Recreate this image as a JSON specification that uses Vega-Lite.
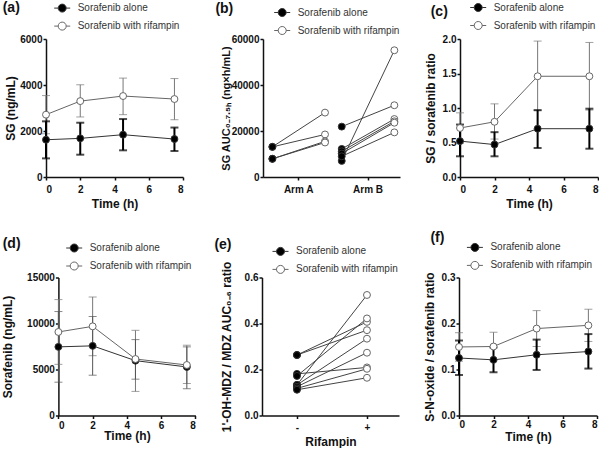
{
  "$schema": "https://vega.github.io/schema/vega-lite/v6.json",
  "background": "white",
  "padding": {"left": 1, "top": 0, "right": 0, "bottom": 0},
  "config": {
    "font": "Liberation Sans",
    "view": {"stroke": null},
    "axis": {"labelFont": "Liberation Sans", "titleFont": "Liberation Sans", "labelFontWeight": "bold", "titleFontWeight": "bold", "labelFontSize": 10, "titleFontSize": 12, "labelColor": "#111", "titleColor": "#111", "domainColor": "#111", "tickColor": "#111", "domainWidth": 1.5, "tickWidth": 1.5, "tickSize": 3, "grid": false},
    "axisY": {"labelPadding": 1, "titlePadding": 0},
    "axisX": {"labelPadding": 4.5, "titlePadding": 3.5},
    "legend": {"orient": "none", "title": null, "labelFont": "Liberation Sans", "labelFontSize": 10, "labelColor": "#333", "symbolType": "M-1.6,0H-0.8M0.8,0H1.6M-0.8,0A0.8,0.8,0,1,0,0.8,0A0.8,0.8,0,1,0,-0.8,0Z", "symbolSize": 100, "symbolStrokeWidth": 1, "rowPadding": 5, "labelOffset": 10, "padding": 0},
    "title": {"anchor": "start", "frame": "group", "fontSize": 14, "fontWeight": "bold", "color": "#111", "font": "Liberation Sans"}
  },
  "resolve": {"scale": {"fill": "independent", "stroke": "independent"}, "legend": {"fill": "independent", "stroke": "independent"}},
  "spacing": 21.5,
  "vconcat": [
    {
      "spacing": 31,
      "resolve": {"scale": {"fill": "independent", "stroke": "independent"}, "legend": {"fill": "independent", "stroke": "independent"}},
      "hconcat": [
        {
          "width": 137, "height": 138,
          "title": {"text": "(a)", "dx": -43.3, "offset": -12.2},
          "data": {"values": [
            {"time": 0, "group": "Sorafenib alone", "mean": 1620, "lo": 810, "hi": 2420},
            {"time": 2, "group": "Sorafenib alone", "mean": 1680, "lo": 970, "hi": 2360},
            {"time": 4.5, "group": "Sorafenib alone", "mean": 1840, "lo": 1160, "hi": 2520},
            {"time": 7.5, "group": "Sorafenib alone", "mean": 1650, "lo": 1130, "hi": 2150},
            {"time": 0, "group": "Sorafenib with rifampin", "mean": 2710, "lo": 1880, "hi": 3540},
            {"time": 2, "group": "Sorafenib with rifampin", "mean": 3300, "lo": 2610, "hi": 4010},
            {"time": 4.5, "group": "Sorafenib with rifampin", "mean": 3520, "lo": 2710, "hi": 4300},
            {"time": 7.5, "group": "Sorafenib with rifampin", "mean": 3390, "lo": 2490, "hi": 4280}
          ]},
          "encoding": {"x": {"field": "time", "type": "quantitative", "scale": {"domain": [0, 8], "nice": false}, "axis": {"values": [0, 2, 4, 6, 8], "title": "Time (h)"}}},
          "layer": [
            {"transform": [{"filter": "datum.group == 'Sorafenib with rifampin'"}], "mark": {"type": "errorbar", "ticks": true, "size": 8, "thickness": 1, "color": "#777"}, "encoding": {"y": {"field": "lo", "type": "quantitative", "scale": {"domain": [0, 6000], "nice": false}, "axis": {"values": [0, 2000, 4000, 6000], "format": "d", "title": "SG (ng/mL)", "minExtent": 28.1, "maxExtent": 28.1}}, "y2": {"field": "hi"}}},
            {"transform": [{"filter": "datum.group == 'Sorafenib alone'"}], "mark": {"type": "errorbar", "ticks": true, "size": 8, "thickness": 2, "color": "#000"}, "encoding": {"y": {"field": "lo", "type": "quantitative", "scale": {"domain": [0, 6000], "nice": false}, "axis": {"values": [0, 2000, 4000, 6000], "format": "d", "title": "SG (ng/mL)", "minExtent": 28.1, "maxExtent": 28.1}}, "y2": {"field": "hi"}}},
            {"mark": {"type": "line", "strokeWidth": 1}, "encoding": {"y": {"field": "mean", "type": "quantitative", "scale": {"domain": [0, 6000], "nice": false}, "axis": {"values": [0, 2000, 4000, 6000], "format": "d", "title": "SG (ng/mL)", "minExtent": 28.1, "maxExtent": 28.1}}, "detail": {"field": "group"}, "stroke": {"field": "group", "type": "nominal", "scale": {"domain": ["Sorafenib alone", "Sorafenib with rifampin"], "range": ["#333", "#666"]}, "legend": {"legendX": 10.7, "legendY": -36.4}}}},
            {"mark": {"type": "circle", "size": 48, "opacity": 1, "strokeWidth": 1}, "encoding": {"y": {"field": "mean", "type": "quantitative", "axis": {"values": [0, 2000, 4000, 6000], "format": "d", "title": "SG (ng/mL)", "minExtent": 28.1, "maxExtent": 28.1}}, "fill": {"field": "group", "type": "nominal", "scale": {"domain": ["Sorafenib alone", "Sorafenib with rifampin"], "range": ["#000", "#fff"]}, "legend": {"legendX": 10.7, "legendY": -36.4}}, "stroke": {"field": "group", "type": "nominal", "legend": {"legendX": 10.7, "legendY": -36.4}}}}
          ]
        },
        {
          "spacing": 24,
          "resolve": {"scale": {"fill": "independent", "stroke": "independent"}, "legend": {"fill": "independent", "stroke": "independent"}},
          "hconcat": [
            {
              "width": 137, "height": 138,
              "title": {"text": "(b)", "dx": -47.6, "offset": -9.1},
              "data": {"values": [
                {"arm": "Arm A", "pair": "A1", "group": "Sorafenib alone", "auc": 13100},
                {"arm": "Arm A", "pair": "A1", "group": "Sorafenib with rifampin", "auc": 28000},
                {"arm": "Arm A", "pair": "A2", "group": "Sorafenib alone", "auc": 13100},
                {"arm": "Arm A", "pair": "A2", "group": "Sorafenib with rifampin", "auc": 18500},
                {"arm": "Arm A", "pair": "A3", "group": "Sorafenib alone", "auc": 7900},
                {"arm": "Arm A", "pair": "A3", "group": "Sorafenib with rifampin", "auc": 15500},
                {"arm": "Arm A", "pair": "A4", "group": "Sorafenib alone", "auc": 7900},
                {"arm": "Arm A", "pair": "A4", "group": "Sorafenib with rifampin", "auc": 15000},
                {"arm": "Arm B", "pair": "B1", "group": "Sorafenib alone", "auc": 21900},
                {"arm": "Arm B", "pair": "B1", "group": "Sorafenib with rifampin", "auc": 31200},
                {"arm": "Arm B", "pair": "B2", "group": "Sorafenib alone", "auc": 7000},
                {"arm": "Arm B", "pair": "B2", "group": "Sorafenib with rifampin", "auc": 55100},
                {"arm": "Arm B", "pair": "B3", "group": "Sorafenib alone", "auc": 12200},
                {"arm": "Arm B", "pair": "B3", "group": "Sorafenib with rifampin", "auc": 25200},
                {"arm": "Arm B", "pair": "B4", "group": "Sorafenib alone", "auc": 11200},
                {"arm": "Arm B", "pair": "B4", "group": "Sorafenib with rifampin", "auc": 24200},
                {"arm": "Arm B", "pair": "B5", "group": "Sorafenib alone", "auc": 10200},
                {"arm": "Arm B", "pair": "B5", "group": "Sorafenib with rifampin", "auc": 23600},
                {"arm": "Arm B", "pair": "B6", "group": "Sorafenib alone", "auc": 9000},
                {"arm": "Arm B", "pair": "B6", "group": "Sorafenib with rifampin", "auc": 19400}
              ]},
              "encoding": {
                "x": {"field": "arm", "type": "nominal", "scale": {"type": "band", "paddingInner": 0.2245, "paddingOuter": 0.1, "align": 0.635}, "axis": {"title": null, "labelAngle": 0}},
                "xOffset": {"field": "group", "type": "nominal", "scale": {"paddingInner": 0, "paddingOuter": 0.011}},
                "y": {"field": "auc", "type": "quantitative", "scale": {"domain": [0, 60000], "nice": false}, "axis": {"values": [0, 20000, 40000, 60000], "format": "d", "title": "SG AUC₀₋₇.₅ₕ (ng×h/mL)", "titleFontSize": 11, "minExtent": 31.5, "maxExtent": 31.5}}
              },
              "layer": [
                {"mark": {"type": "line", "color": "#444", "strokeWidth": 1}, "encoding": {"detail": {"field": "pair"}}},
                {"mark": {"type": "circle", "size": 48, "opacity": 1, "strokeWidth": 1}, "encoding": {"fill": {"field": "group", "type": "nominal", "scale": {"domain": ["Sorafenib alone", "Sorafenib with rifampin"], "range": ["#000", "#fff"]}, "legend": {"legendX": 13.7, "legendY": -32}}, "stroke": {"field": "group", "type": "nominal", "scale": {"domain": ["Sorafenib alone", "Sorafenib with rifampin"], "range": ["#333", "#666"]}, "legend": {"legendX": 13.7, "legendY": -32}}}}
              ]
            },
            {
              "width": 138, "height": 138,
              "title": {"text": "(c)", "dx": -29.3, "offset": -17},
              "data": {"values": [
                {"time": 0, "group": "Sorafenib alone", "mean": 0.52, "lo": 0.30, "hi": 0.76},
                {"time": 2, "group": "Sorafenib alone", "mean": 0.47, "lo": 0.30, "hi": 0.65},
                {"time": 4.5, "group": "Sorafenib alone", "mean": 0.70, "lo": 0.42, "hi": 0.97},
                {"time": 7.5, "group": "Sorafenib alone", "mean": 0.70, "lo": 0.41, "hi": 0.99},
                {"time": 0, "group": "Sorafenib with rifampin", "mean": 0.71, "lo": 0.49, "hi": 0.93},
                {"time": 2, "group": "Sorafenib with rifampin", "mean": 0.80, "lo": 0.55, "hi": 1.06},
                {"time": 4.5, "group": "Sorafenib with rifampin", "mean": 1.46, "lo": 0.96, "hi": 1.97},
                {"time": 7.5, "group": "Sorafenib with rifampin", "mean": 1.46, "lo": 0.97, "hi": 1.95}
              ]},
              "encoding": {"x": {"field": "time", "type": "quantitative", "scale": {"domain": [0, 8], "nice": false}, "axis": {"values": [0, 2, 4, 6, 8], "title": "Time (h)"}}},
              "layer": [
                {"transform": [{"filter": "datum.group == 'Sorafenib with rifampin'"}], "mark": {"type": "errorbar", "ticks": true, "size": 8, "thickness": 1, "color": "#777"}, "encoding": {"y": {"field": "lo", "type": "quantitative", "scale": {"domain": [0, 2], "nice": false}, "axis": {"values": [0, 0.5, 1, 1.5, 2], "format": ".1f", "title": "SG / sorafenib ratio", "minExtent": 22.6, "maxExtent": 22.6}}, "y2": {"field": "hi"}}},
                {"transform": [{"filter": "datum.group == 'Sorafenib alone'"}], "mark": {"type": "errorbar", "ticks": true, "size": 8, "thickness": 2, "color": "#000"}, "encoding": {"y": {"field": "lo", "type": "quantitative", "scale": {"domain": [0, 2], "nice": false}, "axis": {"values": [0, 0.5, 1, 1.5, 2], "format": ".1f", "title": "SG / sorafenib ratio", "minExtent": 22.6, "maxExtent": 22.6}}, "y2": {"field": "hi"}}},
                {"mark": {"type": "line", "strokeWidth": 1}, "encoding": {"y": {"field": "mean", "type": "quantitative", "scale": {"domain": [0, 2], "nice": false}, "axis": {"values": [0, 0.5, 1, 1.5, 2], "format": ".1f", "title": "SG / sorafenib ratio", "minExtent": 22.6, "maxExtent": 22.6}}, "detail": {"field": "group"}, "stroke": {"field": "group", "type": "nominal", "scale": {"domain": ["Sorafenib alone", "Sorafenib with rifampin"], "range": ["#333", "#666"]}, "legend": {"legendX": 12.7, "legendY": -37}}}},
                {"mark": {"type": "circle", "size": 48, "opacity": 1, "strokeWidth": 1}, "encoding": {"y": {"field": "mean", "type": "quantitative", "axis": {"values": [0, 0.5, 1, 1.5, 2], "format": ".1f", "title": "SG / sorafenib ratio", "minExtent": 22.6, "maxExtent": 22.6}}, "fill": {"field": "group", "type": "nominal", "scale": {"domain": ["Sorafenib alone", "Sorafenib with rifampin"], "range": ["#000", "#fff"]}, "legend": {"legendX": 12.7, "legendY": -37}}, "stroke": {"field": "group", "type": "nominal", "legend": {"legendX": 12.7, "legendY": -37}}}}
              ]
            }
          ]
        }
      ]
    },
    {
      "spacing": 18,
      "resolve": {"scale": {"fill": "independent", "stroke": "independent"}, "legend": {"fill": "independent", "stroke": "independent"}},
      "hconcat": [
        {
          "width": 149.4, "height": 138,
          "title": {"text": "(d)", "dx": -43.3, "offset": -8.7},
          "data": {"values": [
            {"time": 0, "group": "Sorafenib alone", "mean": 7460, "lo": 3620, "hi": 11300},
            {"time": 2, "group": "Sorafenib alone", "mean": 7570, "lo": 4380, "hi": 10760},
            {"time": 4.5, "group": "Sorafenib alone", "mean": 5960, "lo": 3950, "hi": 8250},
            {"time": 7.5, "group": "Sorafenib alone", "mean": 5280, "lo": 2910, "hi": 7460},
            {"time": 0, "group": "Sorafenib with rifampin", "mean": 9080, "lo": 5560, "hi": 12600},
            {"time": 2, "group": "Sorafenib with rifampin", "mean": 9690, "lo": 6500, "hi": 12880},
            {"time": 4.5, "group": "Sorafenib with rifampin", "mean": 6140, "lo": 2620, "hi": 9260},
            {"time": 7.5, "group": "Sorafenib with rifampin", "mean": 5490, "lo": 3480, "hi": 7640}
          ]},
          "encoding": {"x": {"field": "time", "type": "quantitative", "scale": {"domain": [0, 8], "nice": false, "range": [12.4, 149.4]}, "axis": {"values": [0, 2, 4, 6, 8], "title": "Time (h)", "labelPadding": 1.5, "titlePadding": 0.5}}},
          "layer": [
            {"transform": [{"filter": "datum.group == 'Sorafenib with rifampin'"}], "mark": {"type": "errorbar", "ticks": true, "size": 8, "thickness": 1, "color": "#777"}, "encoding": {"y": {"field": "lo", "type": "quantitative", "scale": {"domain": [0, 15000], "nice": false}, "axis": {"values": [0, 5000, 10000, 15000], "format": "d", "title": "Sorafenib (ng/mL)", "minExtent": 43.7, "maxExtent": 43.7, "offset": -12.4}}, "y2": {"field": "hi"}}},
            {"transform": [{"filter": "datum.group == 'Sorafenib alone'"}], "mark": {"type": "errorbar", "ticks": true, "size": 8, "thickness": 1, "color": "#555"}, "encoding": {"y": {"field": "lo", "type": "quantitative", "scale": {"domain": [0, 15000], "nice": false}, "axis": {"values": [0, 5000, 10000, 15000], "format": "d", "title": "Sorafenib (ng/mL)", "minExtent": 43.7, "maxExtent": 43.7, "offset": -12.4}}, "y2": {"field": "hi"}}},
            {"mark": {"type": "line", "strokeWidth": 1}, "encoding": {"y": {"field": "mean", "type": "quantitative", "scale": {"domain": [0, 15000], "nice": false}, "axis": {"values": [0, 5000, 10000, 15000], "format": "d", "title": "Sorafenib (ng/mL)", "minExtent": 43.7, "maxExtent": 43.7, "offset": -12.4}}, "detail": {"field": "group"}, "stroke": {"field": "group", "type": "nominal", "scale": {"domain": ["Sorafenib alone", "Sorafenib with rifampin"], "range": ["#333", "#666"]}, "legend": {"legendX": 22.7, "legendY": -35}}}},
            {"mark": {"type": "circle", "size": 48, "opacity": 1, "strokeWidth": 1}, "encoding": {"y": {"field": "mean", "type": "quantitative", "axis": {"values": [0, 5000, 10000, 15000], "format": "d", "title": "Sorafenib (ng/mL)", "minExtent": 43.7, "maxExtent": 43.7, "offset": -12.4}}, "fill": {"field": "group", "type": "nominal", "scale": {"domain": ["Sorafenib alone", "Sorafenib with rifampin"], "range": ["#000", "#fff"]}, "legend": {"legendX": 22.7, "legendY": -35}}, "stroke": {"field": "group", "type": "nominal", "legend": {"legendX": 22.7, "legendY": -35}}}}
          ]
        },
        {
          "spacing": 24,
          "resolve": {"scale": {"fill": "independent", "stroke": "independent"}, "legend": {"fill": "independent", "stroke": "independent"}},
          "hconcat": [
            {
              "width": 137, "height": 138,
              "title": {"text": "(e)", "dx": -47.6, "offset": -6.3},
              "data": {"values": [
                {"rif": "-", "pair": 1, "group": "Sorafenib alone", "ratio": 0.263},
                {"rif": "+", "pair": 1, "group": "Sorafenib with rifampin", "ratio": 0.371},
                {"rif": "-", "pair": 2, "group": "Sorafenib alone", "ratio": 0.263},
                {"rif": "+", "pair": 2, "group": "Sorafenib with rifampin", "ratio": 0.407},
                {"rif": "-", "pair": 3, "group": "Sorafenib alone", "ratio": 0.181},
                {"rif": "+", "pair": 3, "group": "Sorafenib with rifampin", "ratio": 0.209},
                {"rif": "-", "pair": 4, "group": "Sorafenib alone", "ratio": 0.172},
                {"rif": "+", "pair": 4, "group": "Sorafenib with rifampin", "ratio": 0.422},
                {"rif": "-", "pair": 5, "group": "Sorafenib alone", "ratio": 0.133},
                {"rif": "+", "pair": 5, "group": "Sorafenib with rifampin", "ratio": 0.524},
                {"rif": "-", "pair": 6, "group": "Sorafenib alone", "ratio": 0.133},
                {"rif": "+", "pair": 6, "group": "Sorafenib with rifampin", "ratio": 0.334},
                {"rif": "-", "pair": 7, "group": "Sorafenib alone", "ratio": 0.125},
                {"rif": "+", "pair": 7, "group": "Sorafenib with rifampin", "ratio": 0.273},
                {"rif": "-", "pair": 8, "group": "Sorafenib alone", "ratio": 0.118},
                {"rif": "+", "pair": 8, "group": "Sorafenib with rifampin", "ratio": 0.203},
                {"rif": "-", "pair": 9, "group": "Sorafenib alone", "ratio": 0.112},
                {"rif": "+", "pair": 9, "group": "Sorafenib with rifampin", "ratio": 0.164}
              ]},
              "encoding": {
                "x": {"field": "rif", "type": "nominal", "sort": ["-", "+"], "scale": {"type": "point", "padding": 0.4786, "align": 0.522}, "axis": {"title": "Rifampin", "labelAngle": 0, "labelPadding": 3.7, "titlePadding": 4.5}},
                "y": {"field": "ratio", "type": "quantitative", "scale": {"domain": [0, 0.6], "nice": false}, "axis": {"values": [0, 0.2, 0.4, 0.6], "format": ".1f", "title": "1'-OH-MDZ / MDZ AUC₀₋₆ ratio", "minExtent": 28.3, "maxExtent": 28.3}}
              },
              "layer": [
                {"mark": {"type": "line", "color": "#444", "strokeWidth": 1}, "encoding": {"detail": {"field": "pair"}}},
                {"mark": {"type": "circle", "size": 48, "opacity": 1, "strokeWidth": 1}, "encoding": {"fill": {"field": "group", "type": "nominal", "scale": {"domain": ["Sorafenib alone", "Sorafenib with rifampin"], "range": ["#000", "#fff"]}, "legend": {"legendX": 13, "legendY": -31.6}}, "stroke": {"field": "group", "type": "nominal", "scale": {"domain": ["Sorafenib alone", "Sorafenib with rifampin"], "range": ["#333", "#666"]}, "legend": {"legendX": 13, "legendY": -31.6}}}}
              ]
            },
            {
              "width": 138, "height": 138,
              "title": {"text": "(f)", "dx": -28.6, "offset": -2.8},
              "data": {"values": [
                {"time": 0, "group": "Sorafenib alone", "mean": 0.125, "lo": 0.088, "hi": 0.163},
                {"time": 2, "group": "Sorafenib alone", "mean": 0.121, "lo": 0.094, "hi": 0.148},
                {"time": 4.5, "group": "Sorafenib alone", "mean": 0.132, "lo": 0.099, "hi": 0.165},
                {"time": 7.5, "group": "Sorafenib alone", "mean": 0.139, "lo": 0.102, "hi": 0.177},
                {"time": 0, "group": "Sorafenib with rifampin", "mean": 0.149, "lo": 0.118, "hi": 0.180},
                {"time": 2, "group": "Sorafenib with rifampin", "mean": 0.150, "lo": 0.119, "hi": 0.181},
                {"time": 4.5, "group": "Sorafenib with rifampin", "mean": 0.189, "lo": 0.150, "hi": 0.228},
                {"time": 7.5, "group": "Sorafenib with rifampin", "mean": 0.196, "lo": 0.161, "hi": 0.231}
              ]},
              "encoding": {"x": {"field": "time", "type": "quantitative", "scale": {"domain": [0, 8], "nice": false}, "axis": {"values": [0, 2, 4, 6, 8], "title": "Time (h)", "labelPadding": 0.5, "titlePadding": 2}}},
              "layer": [
                {"transform": [{"filter": "datum.group == 'Sorafenib with rifampin'"}], "mark": {"type": "errorbar", "ticks": true, "size": 8, "thickness": 1, "color": "#777"}, "encoding": {"y": {"field": "lo", "type": "quantitative", "scale": {"domain": [0, 0.3], "nice": false}, "axis": {"values": [0, 0.1, 0.2, 0.3], "format": ".1f", "title": "S-N-oxide / sorafenib ratio", "minExtent": 22.6, "maxExtent": 22.6}}, "y2": {"field": "hi"}}},
                {"transform": [{"filter": "datum.group == 'Sorafenib alone'"}], "mark": {"type": "errorbar", "ticks": true, "size": 8, "thickness": 2, "color": "#000"}, "encoding": {"y": {"field": "lo", "type": "quantitative", "scale": {"domain": [0, 0.3], "nice": false}, "axis": {"values": [0, 0.1, 0.2, 0.3], "format": ".1f", "title": "S-N-oxide / sorafenib ratio", "minExtent": 22.6, "maxExtent": 22.6}}, "y2": {"field": "hi"}}},
                {"mark": {"type": "line", "strokeWidth": 1}, "encoding": {"y": {"field": "mean", "type": "quantitative", "scale": {"domain": [0, 0.3], "nice": false}, "axis": {"values": [0, 0.1, 0.2, 0.3], "format": ".1f", "title": "S-N-oxide / sorafenib ratio", "minExtent": 22.6, "maxExtent": 22.6}}, "detail": {"field": "group"}, "stroke": {"field": "group", "type": "nominal", "scale": {"domain": ["Sorafenib alone", "Sorafenib with rifampin"], "range": ["#333", "#666"]}, "legend": {"legendX": 10.4, "legendY": -35.6}}}},
                {"mark": {"type": "circle", "size": 48, "opacity": 1, "strokeWidth": 1}, "encoding": {"y": {"field": "mean", "type": "quantitative", "axis": {"values": [0, 0.1, 0.2, 0.3], "format": ".1f", "title": "S-N-oxide / sorafenib ratio", "minExtent": 22.6, "maxExtent": 22.6}}, "fill": {"field": "group", "type": "nominal", "scale": {"domain": ["Sorafenib alone", "Sorafenib with rifampin"], "range": ["#000", "#fff"]}, "legend": {"legendX": 10.4, "legendY": -35.6}}, "stroke": {"field": "group", "type": "nominal", "legend": {"legendX": 10.4, "legendY": -35.6}}}}
              ]
            }
          ]
        }
      ]
    }
  ]
}
